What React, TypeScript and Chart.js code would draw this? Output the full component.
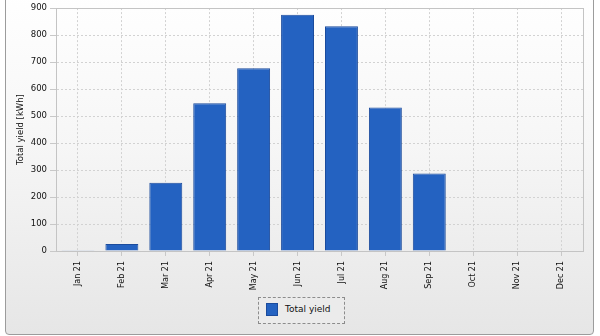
import React, { useEffect, useRef } from "react";
import { Chart, registerables } from "chart.js";

Chart.register(...registerables);

const categories = ["Jan 21", "Feb 21", "Mar 21", "Apr 21", "May 21", "Jun 21", "Jul 21", "Aug 21", "Sep 21", "Oct 21", "Nov 21", "Dec 21"];
const totalYield = [3, 26, 253, 547, 677, 875, 833, 532, 287, 0, 0, 0];
const seriesLabel = "Total yield";
const yTitle = "Total yield [kWh]";
const yMin = 0;
const yMax = 900;
const yStep = 100;

const BAR_FILL = "#2462c1";
const BAR_BORDER = "#1b4b9c";
const FONT = "'DejaVu Sans', sans-serif";
const TEXT = "#111";

const plotBorder = {
  id: "plotBorder",
  afterDraw(chart: any) {
    const { ctx, chartArea } = chart;
    ctx.save();
    ctx.strokeStyle = "#c4c4c4";
    ctx.lineWidth = 1;
    ctx.setLineDash([]);
    ctx.strokeRect(Math.round(chartArea.left) + 0.5, Math.round(chartArea.top) + 0.5, Math.round(chartArea.right - chartArea.left), Math.round(chartArea.bottom - chartArea.top));
    ctx.restore();
  },
};

export default function App() {
  const ref = useRef<HTMLCanvasElement | null>(null);
  useEffect(() => {
    if (!ref.current) return;
    const chart = new Chart(ref.current, {
      type: "bar",
      data: {
        labels: categories,
        datasets: [
          {
            label: seriesLabel,
            data: totalYield,
            backgroundColor: BAR_FILL,
            borderColor: BAR_BORDER,
            borderWidth: 1,
            categoryPercentage: 0.75,
            barPercentage: 1,
          },
        ],
      },
      options: {
        responsive: false,
        animation: false,
        devicePixelRatio: 1,
        layout: { padding: { left: 0, right: 17, top: 4, bottom: 0 } },
        plugins: { legend: { display: false }, tooltip: { enabled: false } },
        scales: {
          x: {
            afterFit(scale: any) {
              scale.height = 85;
            },
            grid: { offset: false, color: "#d2d2d2", tickLength: 5, tickColor: "#c8c8c8", lineWidth: 1 },
            border: { display: true, color: "#bdbdbd", dash: [2, 2] },
            ticks: {
              maxRotation: 90,
              minRotation: 90,
              padding: 5,
              color: TEXT,
              font: { family: FONT, size: 8 },
              autoSkip: false,
            },
          },
          y: {
            min: yMin,
            max: yMax,
            afterFit(scale: any) {
              scale.width = 56;
            },
            grid: { color: "#d2d2d2", tickLength: 6, tickColor: "#c8c8c8", lineWidth: 1 },
            border: { display: true, color: "#bdbdbd", dash: [2, 2] },
            ticks: {
              stepSize: yStep,
              padding: 3,
              color: TEXT,
              font: { family: FONT, size: 8.5 },
            },
            title: {
              display: true,
              text: yTitle,
              color: TEXT,
              font: { family: FONT, size: 8.5 },
              padding: { top: 16, bottom: 0 },
            },
          },
        },
      },
      plugins: [plotBorder],
    });
    return () => chart.destroy();
  }, []);

  return (
    <div style={{ position: "fixed", left: 0, top: 0, width: 600, height: 336, overflow: "hidden", background: "#ffffff" }}>
      <div
        style={{
          position: "absolute",
          left: 5,
          top: -10,
          width: 589,
          height: 345,
          boxSizing: "border-box",
          border: "1px solid #9c9c9c",
          borderRadius: 4,
          background: "linear-gradient(#ffffff 0%, #f6f6f6 45%, #e6e6e6 100%)",
        }}
      />
      <canvas ref={ref} width={600} height={336} style={{ position: "absolute", left: 0, top: 0, width: 600, height: 336 }} />
      <div
        style={{
          position: "absolute",
          left: 258,
          top: 297,
          width: 87,
          height: 27,
          boxSizing: "border-box",
          border: "1px dashed #8c8c8c",
          background: "#ebebeb",
        }}
      >
        <div
          style={{
            position: "absolute",
            left: 7,
            top: 5,
            width: 12,
            height: 13,
            boxSizing: "border-box",
            background: BAR_FILL,
            border: "1px solid " + BAR_BORDER,
          }}
        />
        <div
          style={{
            position: "absolute",
            left: 26,
            top: 6,
            fontFamily: FONT,
            fontSize: 9,
            lineHeight: "11px",
            color: TEXT,
            whiteSpace: "nowrap",
          }}
        >
          {seriesLabel}
        </div>
      </div>
    </div>
  );
}
